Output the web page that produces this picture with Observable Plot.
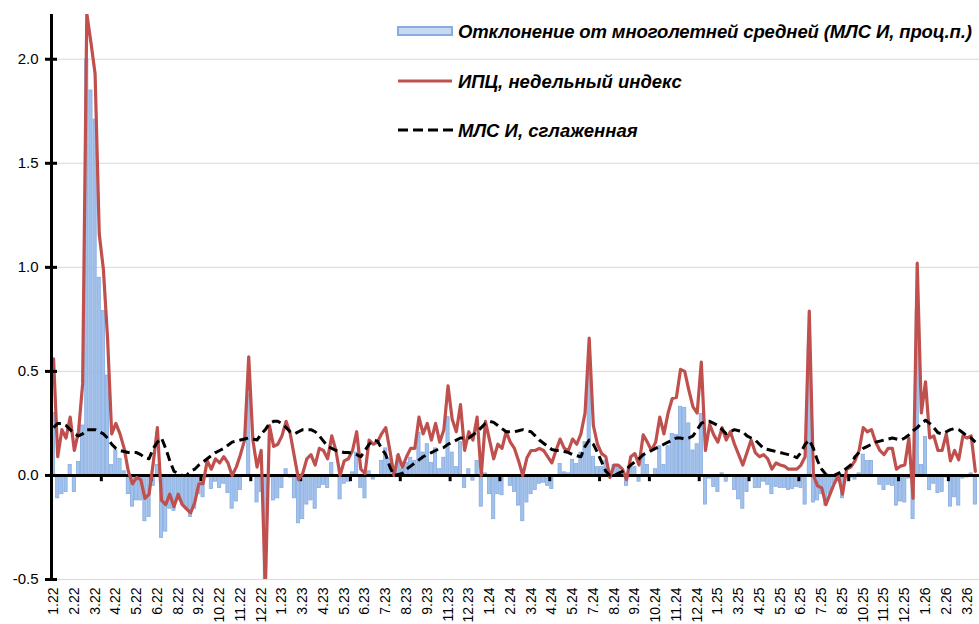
<!DOCTYPE html>
<html><head><meta charset="utf-8">
<script src="https://cdn.jsdelivr.net/npm/d3@7"></script>
<script src="https://cdn.jsdelivr.net/npm/@observablehq/plot@0.6"></script>
<style>
body{margin:0;background:#fff;}
#wrap{width:979px;height:624px;overflow:hidden;position:relative;background:#fff;}
</style></head><body><div id="wrap"></div>
<script>
// Weekly CPI (ИПЦ, недельный индекс), % — weeks from Jan 2022
const cpi = [
 0.56,0.09,0.22,0.18,0.28,0.12,0.21,0.44,2.22,2.08,
 1.93,1.16,0.99,0.66,0.20,0.25,0.20,0.13,0.02,-0.04,
 -0.01,-0.02,-0.11,-0.09,0.06,0.23,-0.12,-0.14,-0.09,-0.15,
 -0.09,-0.14,-0.16,-0.18,-0.13,-0.04,-0.04,0.07,0.03,0.08,
 0.06,0.09,0.06,0.00,0.04,0.10,0.17,0.57,0.17,0.04,
 0.12,-0.55,0.24,0.14,0.15,0.19,0.26,0.20,0.09,-0.02,
 0.01,0.08,0.10,0.05,0.13,0.12,0.08,0.19,0.12,0.00,
 0.07,0.08,0.12,0.21,0.03,0.01,0.17,0.15,0.16,0.20,
 0.23,0.12,0.00,0.10,0.04,0.09,0.13,0.13,0.28,0.20,
 0.25,0.17,0.25,0.16,0.22,0.43,0.27,0.21,0.34,0.12,
 0.21,0.17,0.28,0.00,0.26,0.17,0.08,0.15,0.13,0.21,
 0.16,0.13,0.07,0.00,0.085,0.12,0.12,0.13,0.12,0.09,
 0.06,0.12,0.175,0.13,0.12,0.175,0.15,0.20,0.30,0.66,
 0.24,0.15,0.105,0.09,-0.01,0.05,0.05,0.03,-0.02,0.09,
 0.105,0.05,0.195,0.16,0.12,0.16,0.28,0.20,0.30,0.37,
 0.375,0.51,0.50,0.41,0.33,0.30,0.545,0.12,0.245,0.195,
 0.16,0.23,0.17,0.21,0.15,0.10,0.05,0.11,0.17,0.11,
 0.09,0.10,0.08,0.03,0.06,0.05,0.045,0.03,0.03,0.03,
 0.05,0.09,0.79,0.00,-0.05,-0.06,-0.14,-0.09,-0.04,0.00,
 -0.09,0.03,0.04,0.07,0.12,0.23,0.21,0.22,0.16,0.12,
 0.10,0.13,0.13,0.03,0.045,0.05,0.18,-0.11,1.02,0.30,
 0.45,0.18,0.19,0.12,0.12,0.20,0.07,0.12,0.075,0.19,
 0.18,0.19,0.02
];
// МЛСИ, сглаженная
const mlsi = [
 0.23,0.25,0.25,0.24,0.22,0.20,0.19,0.20,0.22,0.22,
 0.22,0.21,0.20,0.18,0.15,0.13,0.12,0.115,0.11,0.11,
 0.11,0.10,0.085,0.08,0.13,0.16,0.18,0.13,0.07,0.02,
 0.01,0.00,0.00,0.02,0.03,0.05,0.065,0.08,0.095,0.11,
 0.12,0.13,0.145,0.16,0.165,0.17,0.175,0.18,0.175,0.17,
 0.20,0.22,0.25,0.26,0.26,0.25,0.23,0.21,0.20,0.21,
 0.22,0.22,0.22,0.21,0.19,0.165,0.14,0.13,0.12,0.115,
 0.11,0.11,0.105,0.10,0.09,0.12,0.15,0.17,0.165,0.13,
 0.10,0.04,0.00,0.005,0.01,0.03,0.045,0.06,0.075,0.09,
 0.10,0.11,0.12,0.13,0.135,0.15,0.16,0.17,0.18,0.18,
 0.18,0.195,0.21,0.23,0.25,0.26,0.255,0.24,0.225,0.21,
 0.21,0.21,0.215,0.22,0.215,0.21,0.19,0.17,0.155,0.14,
 0.125,0.12,0.12,0.115,0.11,0.10,0.095,0.09,0.14,0.17,
 0.15,0.11,0.065,0.02,0.00,0.00,0.01,0.02,0.03,0.05,
 0.065,0.08,0.10,0.11,0.12,0.13,0.14,0.15,0.16,0.17,
 0.18,0.18,0.175,0.18,0.19,0.22,0.25,0.26,0.26,0.25,
 0.24,0.22,0.20,0.21,0.22,0.215,0.21,0.19,0.18,0.17,
 0.15,0.13,0.125,0.12,0.115,0.11,0.105,0.10,0.095,0.085,
 0.11,0.15,0.17,0.13,0.07,0.03,0.005,0.00,0.00,0.01,
 0.02,0.035,0.05,0.09,0.11,0.13,0.14,0.15,0.16,0.165,
 0.17,0.175,0.18,0.175,0.17,0.18,0.195,0.215,0.23,0.25,
 0.265,0.25,0.23,0.205,0.20,0.21,0.22,0.225,0.22,0.205,
 0.19,0.18,0.16
];
// Отклонение от многолетней средней, проц.п.
const dev = [
 0.30,-0.11,-0.09,-0.08,0.05,-0.08,0.065,0.24,2.00,1.85,
 1.71,0.95,0.79,0.48,0.05,0.12,0.08,0.02,-0.09,-0.15,
 -0.12,-0.12,-0.22,-0.20,-0.05,0.05,-0.30,-0.27,-0.16,-0.17,
 -0.12,-0.14,-0.16,-0.20,-0.16,-0.09,-0.105,-0.01,-0.065,-0.03,
 -0.06,-0.04,-0.085,-0.16,-0.125,-0.07,-0.005,0.39,-0.005,-0.13,
 -0.08,-0.77,-0.01,-0.12,-0.11,-0.06,0.03,-0.01,-0.11,-0.23,
 -0.21,-0.14,-0.12,-0.16,-0.06,-0.045,-0.06,0.06,0.00,-0.115,
 -0.04,-0.03,0.015,0.11,-0.06,-0.11,0.02,-0.02,-0.005,0.07,
 0.13,0.08,0.00,0.095,0.03,0.06,0.085,0.07,0.205,0.11,
 0.15,0.06,0.13,0.03,0.085,0.28,0.11,0.04,0.16,-0.06,
 0.03,-0.025,0.07,-0.15,0.01,-0.09,-0.21,-0.09,-0.095,0.00,
 -0.05,-0.08,-0.145,-0.22,-0.13,-0.09,-0.07,-0.04,-0.035,-0.05,
 -0.065,0.00,0.055,0.015,0.01,0.075,0.055,0.11,0.16,0.49,
 0.09,0.04,0.04,0.07,-0.01,0.05,0.04,0.01,-0.05,0.04,
 0.04,-0.03,0.095,0.05,0.00,0.03,0.14,0.05,0.14,0.20,
 0.195,0.33,0.325,0.25,0.12,0.15,0.295,-0.14,-0.015,-0.055,
 -0.08,0.01,-0.03,0.00,-0.07,-0.115,-0.16,-0.08,-0.01,-0.06,
 -0.06,-0.03,-0.045,-0.09,-0.055,-0.06,-0.06,-0.07,-0.065,-0.055,
 -0.06,-0.14,0.62,-0.13,-0.12,-0.09,-0.145,-0.09,-0.04,-0.01,
 -0.11,-0.005,-0.01,-0.02,0.01,0.10,0.07,0.07,0.00,-0.045,
 -0.07,-0.045,-0.05,-0.145,-0.125,-0.13,-0.015,-0.21,0.79,0.05,
 0.185,-0.07,-0.04,-0.085,-0.08,-0.01,-0.15,-0.105,-0.145,-0.015,
 -0.01,0.01,-0.14
];
const xTickLabels = ["1.22","2.22","3.22","4.22","5.22","6.22","8.22","9.22","10.22","11.22","12.22",
 "1.23","3.23","4.23","5.23","6.23","7.23","8.23","9.23","11.23","12.23",
 "1.24","2.24","3.24","4.24","5.24","7.24","8.24","9.24","10.24","11.24","12.24",
 "1.25","3.25","4.25","5.25","6.25","7.25","8.25","10.25","11.25","12.25",
 "1.26","2.26","3.26"];
const yTicks = [-0.5, 0, 0.5, 1, 1.5, 2];
const legendLabels = ["Отклонение от многолетней средней (МЛС И, проц.п.)", "ИПЦ, недельный индекс", "МЛС И, сглаженная"];
const labelStep = 5;   // every 5th week labelled
const tickStep = 12;   // tick mark every 12 weeks

const N = cpi.length;
const rows = cpi.map((v, i) => ({i, cpi: v, mlsi: mlsi[i], dev: dev[i]}));
const labelRows = xTickLabels.map((t, j) => ({i: j * labelStep, t}));
const tickRows = d3.range(tickStep, N, tickStep).map(k => k - 0.5);
const FONT = "'Liberation Sans', Arial, Helvetica, sans-serif";

const chart = Plot.plot({
  width: 979, height: 624,
  marginLeft: 51, marginRight: 0, marginTop: 14, marginBottom: 45,
  style: {fontFamily: FONT, background: "#fff", overflow: "hidden"},
  x: {type: "linear", domain: [-0.5, N], axis: null},
  y: {domain: [-0.5, 2.215], axis: null},
  marks: [
    Plot.ruleY(yTicks.filter(v => v !== 0), {stroke: "#d9d9d9", strokeWidth: 1}),
    Plot.rect(rows, {x1: d => d.i - 0.38, x2: d => d.i + 0.38, y1: 0, y2: "dev",
      fill: "#a3c2eb", stroke: "#84abe1", strokeWidth: 0.8, clip: "frame"}),
    Plot.ruleY([0], {stroke: "#000", strokeWidth: 3}),
    Plot.ruleX(tickRows, {y1: 0, y2: -0.03, stroke: "#000", strokeWidth: 3}),
    Plot.line(rows, {x: "i", y: "cpi", stroke: "#c0504d", strokeWidth: 3.2, clip: "frame"}),
    Plot.line(rows, {x: "i", y: "mlsi", stroke: "#000", strokeWidth: 3, strokeDasharray: "9,5", strokeLinecap: "butt"}),
    Plot.ruleX([-0.5], {stroke: "#000", strokeWidth: 3}),
    Plot.ruleY(yTicks, {x1: -1.95, x2: 0.95, stroke: "#000", strokeWidth: 3}),
    Plot.text(yTicks, {y: d => d, text: d => d.toFixed(1), frameAnchor: "left", dx: -13,
      textAnchor: "end", fontSize: 15, fill: "#000"}),
    Plot.text(labelRows, {x: "i", text: "t", frameAnchor: "bottom", dy: 8, rotate: -90,
      textAnchor: "end", lineAnchor: "middle", fontSize: 14, fill: "#000"})
  ]
});

// Legend inside the plot area (top right)
const svg = d3.select(chart);
const lg = svg.append("g")
  .attr("font-family", FONT).attr("font-size", 18.5).attr("text-anchor", "start")
  .attr("font-weight", "bold").attr("font-style", "italic").attr("fill", "#000");
lg.append("rect").attr("x", 398).attr("y", 27).attr("width", 54).attr("height", 8)
  .attr("fill", "#c6d9f1").attr("stroke", "#86ace2").attr("stroke-width", 2);
lg.append("text").attr("x", 458).attr("y", 37.5).attr("textLength", 514)
  .attr("lengthAdjust", "spacing").text(legendLabels[0]);
lg.append("line").attr("x1", 398).attr("x2", 452).attr("y1", 81).attr("y2", 81)
  .attr("stroke", "#c0504d").attr("stroke-width", 3);
lg.append("text").attr("x", 458).attr("y", 87.5).text(legendLabels[1]);
lg.append("line").attr("x1", 398).attr("x2", 453).attr("y1", 130).attr("y2", 130)
  .attr("stroke", "#000").attr("stroke-width", 3).attr("stroke-dasharray", "10,5");
lg.append("text").attr("x", 458).attr("y", 136.5).text(legendLabels[2]);

document.getElementById("wrap").appendChild(chart);
</script></body></html>
